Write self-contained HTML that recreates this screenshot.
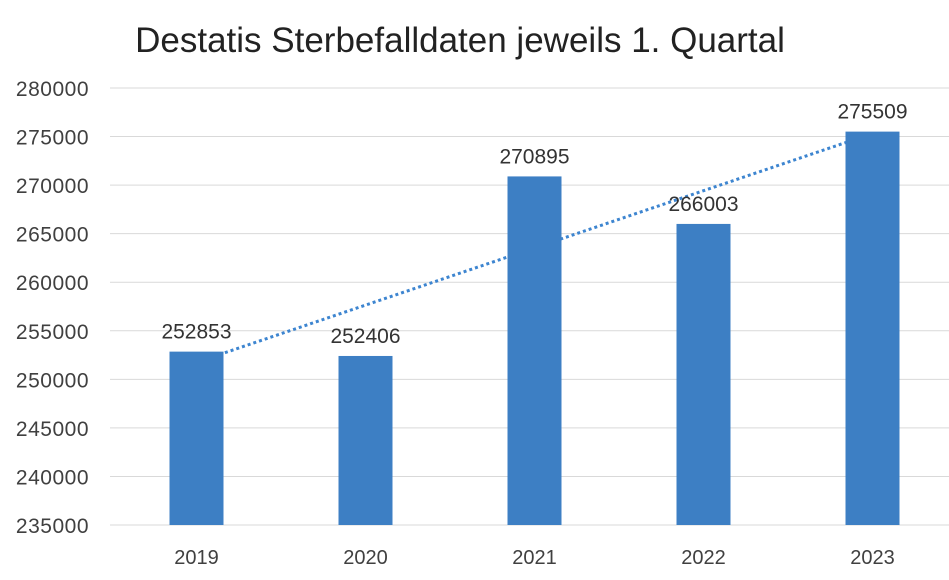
<!DOCTYPE html>
<html><head><meta charset="utf-8"><style>
body{margin:0;background:#fff;}
svg{display:block;font-family:"Liberation Sans",sans-serif;}
</style></head><body>
<svg id="chart" width="949" height="580">
<text x="460" y="52" text-anchor="middle" font-size="35" fill="#222">Destatis Sterbefalldaten jeweils 1. Quartal</text>
<g id="grid"></g><g id="trend"></g><g id="bars"></g><g id="labels"></g>
</svg>
<script>
const categories=["2019","2020","2021","2022","2023"];
const values=[252853,252406,270895,266003,275509];
const yTicks=[235000,240000,245000,250000,255000,260000,265000,270000,275000,280000];
const yMin=235000,yMax=280000,plotTop=88,plotBot=525,plotLeft=112,step=169,barW=54;
const NS="http://www.w3.org/2000/svg";
function yPos(v){return plotBot-(v-yMin)/(yMax-yMin)*(plotBot-plotTop);}
function xPos(i){return plotLeft+step*(i+0.5);}
function el(t,a,p){const e=document.createElementNS(NS,t);for(const k in a)e.setAttribute(k,a[k]);document.getElementById(p).appendChild(e);return e;}
yTicks.forEach(t=>{
 const l=el('line',{x1:110,x2:949,y1:yPos(t),y2:yPos(t),stroke:'#d9d9d9','stroke-width':1},'grid');
 
 
 const tx=el('text',{x:89,y:yPos(t)+8,'text-anchor':'end','font-size':21,'letter-spacing':'0.5',fill:'#404040'},'grid');
 tx.textContent=t;
 
 
});
categories.forEach((c,i)=>{
 const tx=el('text',{x:xPos(i),y:564,'text-anchor':'middle','font-size':20,fill:'#404040'},'labels');
 tx.textContent=c;
 
 
 const b=el('rect',{x:xPos(i)-barW/2,y:yPos(values[i]),width:barW,height:plotBot-yPos(values[i]),fill:'#3d7fc4'},'bars');
 
 
 const v=el('text',{x:xPos(i),y:yPos(values[i])-13,'text-anchor':'middle','font-size':21,fill:'#333'},'labels');
 v.textContent=values[i];
 
 
});
const n=values.length;let mx=0,my=0;values.forEach((v,i)=>{mx+=i;my+=v;});mx/=n;my/=n;
let sxy=0,sxx=0;values.forEach((v,i)=>{sxy+=(i-mx)*(v-my);sxx+=(i-mx)*(i-mx);});
const slope=sxy/sxx,ic=my-slope*mx;
const tl=el('line',{x1:xPos(0),y1:yPos(ic),x2:xPos(n-1),y2:yPos(ic+slope*(n-1)),stroke:'#3d85d0','stroke-width':3,'stroke-dasharray':'3 3'},'trend');


</script>
</body></html>
